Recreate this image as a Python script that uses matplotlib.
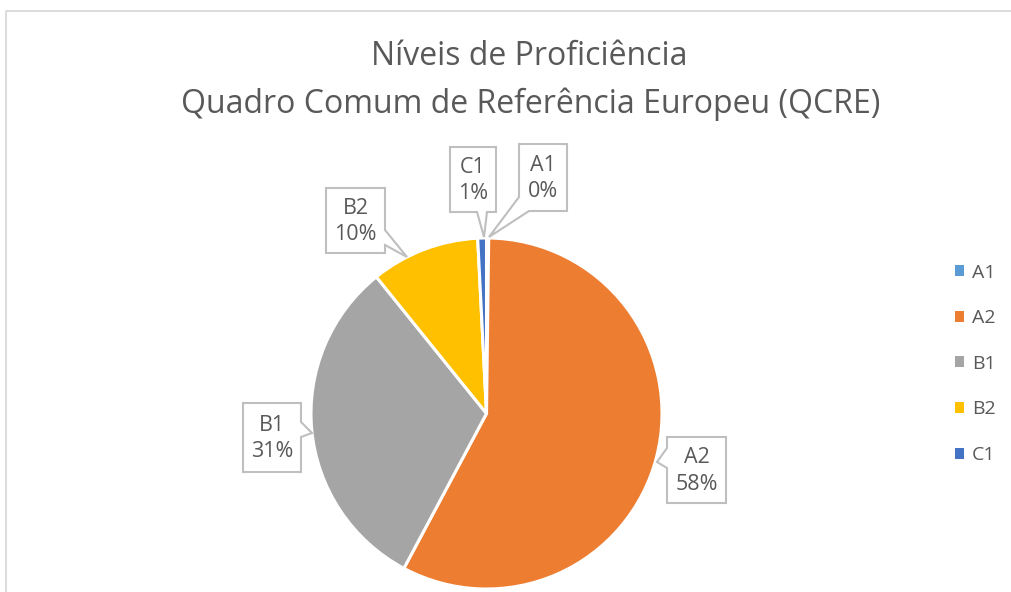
import matplotlib
matplotlib.use('Agg')
import matplotlib.pyplot as plt
from matplotlib.patches import Polygon, Patch
from matplotlib.lines import Line2D

plt.rcParams['font.family'] = ['Open Sans', 'DejaVu Sans']

# dados
niveis = ['A1', 'A2', 'B1', 'B2', 'C1']
percent = [0.2, 57.6, 31.4, 10.0, 0.8]
rotulos = ['0%', '58%', '31%', '10%', '1%']
cores = ['#5B9BD5', '#ED7D31', '#A5A5A5', '#FFC000', '#4472C4']
titulo_1 = 'Níveis de Proficiência'
titulo_2 = 'Quadro Comum de Referência Europeu (QCRE)'

W, H = 1011, 592
TXT = '#595959'
EDGE = '#BFBFBF'

fig = plt.figure(figsize=(W / 100, H / 100), dpi=100)


def fx(x):
    return x / W


def fy(y):
    return 1 - y / H


# borda da área do gráfico
fig.add_artist(Line2D([fx(6), fx(6), fx(W + 5)], [fy(H + 5), fy(10.5), fy(10.5)],
                      color='#D9D9D9', lw=1.3, transform=fig.transFigure))

# pizza
cx, cy, r = 486.5, 413.5, 175.5
ax = fig.add_axes([fx(cx - r), fy(cy + r), 2 * r / W, 2 * r / H])
ax.pie(percent, colors=cores, startangle=90, counterclock=False,
       wedgeprops=dict(edgecolor='white', linewidth=2.2))
ax.set_xlim(-1, 1)
ax.set_ylim(-1, 1)
ax.set_aspect('auto')
ax.axis('off')

# títulos
fig.text(fx(529), fy(65), titulo_1, ha='center', va='baseline', fontsize=23, color=TXT)
fig.text(fx(531), fy(113), titulo_2, ha='center', va='baseline', fontsize=23, color=TXT)

# balões (caixa, lado do ponteiro, base do ponteiro, ponta)
baloes = {
    'C1': ((450, 147, 496, 212), 'bottom', (477, 487), (484, 237)),
    'A1': ((519, 144, 567, 211), 'corner', (197, 529), (489, 237)),
    'B2': ((326, 188, 385, 253), 'right', (230, 245), (407, 257)),
    'B1': ((243, 403, 301, 472), 'right', (422, 437), (312, 433)),
    'A2': ((667, 437, 726, 503), 'left', (448, 468), (657, 462)),
}

for nome, rot in zip(niveis, rotulos):
    (x0, y0, x1, y1), lado, base, tip = baloes[nome]
    if lado == 'bottom':
        pts = [(x0, y0), (x1, y0), (x1, y1), (base[1], y1), tip, (base[0], y1), (x0, y1)]
    elif lado == 'right':
        pts = [(x0, y0), (x1, y0), (x1, base[0]), tip, (x1, base[1]), (x1, y1), (x0, y1)]
    elif lado == 'left':
        pts = [(x0, y0), (x1, y0), (x1, y1), (x0, y1), (x0, base[1]), tip, (x0, base[0])]
    else:
        pts = [(x0, y0), (x1, y0), (x1, y1), (base[1], y1), tip, (x0, base[0])]
    poly = Polygon([(fx(px), fy(py)) for px, py in pts], closed=True,
                   facecolor='white', edgecolor=EDGE, lw=1.5,
                   transform=fig.transFigure, zorder=5)
    fig.add_artist(poly)
    fig.text(fx((x0 + x1) / 2), fy((y0 + y1) / 2 + 1), nome + '\n' + rot,
             ha='center', va='center', fontsize=15.5, color=TXT,
             linespacing=1.35, zorder=6)

# legenda
handles = [Patch(facecolor=c, edgecolor='none') for c in cores]
fig.legend(handles, niveis, loc='upper left', bbox_to_anchor=(fx(937), fy(246)),
           frameon=False, fontsize=14, labelcolor=TXT,
           handlelength=0.5, handleheight=0.5, handletextpad=0.4,
           labelspacing=1.42)

fig.savefig('out.png', dpi=100, facecolor='white')
